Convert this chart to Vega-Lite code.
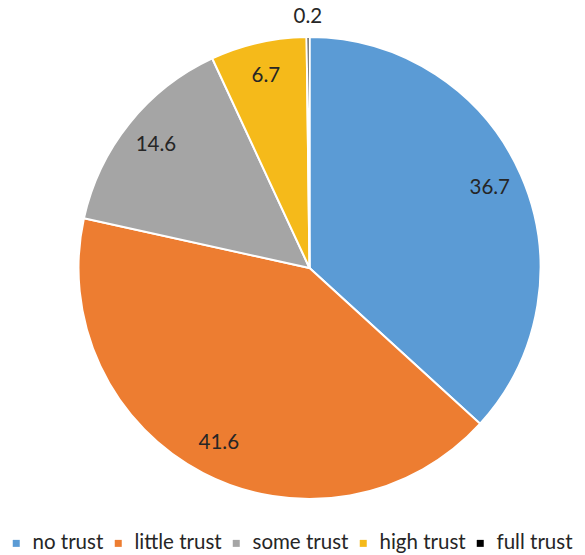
{
  "$schema": "https://vega.github.io/schema/vega-lite/v6.json",
  "width": 551,
  "height": 464,
  "autosize": {"type": "none"},
  "padding": {"left": 34, "top": 36, "right": 0, "bottom": 55},
  "background": "white",
  "data": {"values": [
    {"category": "no trust", "value": 36.7, "order": 1},
    {"category": "little trust", "value": 41.6, "order": 2},
    {"category": "some trust", "value": 14.6, "order": 3},
    {"category": "high trust", "value": 6.7, "order": 4},
    {"category": "full trust", "value": 0.2, "order": 5}
  ]},
  "encoding": {
    "theta": {"field": "value", "type": "quantitative", "stack": true},
    "order": {"field": "order", "type": "ordinal"}
  },
  "layer": [
    {
      "mark": {"type": "arc", "outerRadius": 231, "stroke": "white", "strokeWidth": 2},
      "encoding": {
        "color": {
          "field": "category", "type": "nominal",
          "scale": {
            "domain": ["no trust", "little trust", "some trust", "high trust", "full trust"],
            "range": ["#5B9BD5", "#ED7D31", "#A5A5A5", "#F5BA1A", "#000000"]
          },
          "legend": {
            "orient": "none", "direction": "horizontal", "title": null,
            "legendX": -28, "legendY": 497,
            "symbolType": "square", "symbolSize": 49, "symbolStrokeWidth": 0,
            "labelFont": "Lato", "labelFontSize": 20.5, "labelColor": "#262626",
            "labelOffset": 6, "columnPadding": 4, "symbolOffset": 0
          }
        }
      }
    },
    {
      "mark": {"type": "text", "radius": 197, "font": "Lato", "fontSize": 20.5, "color": "#262626"},
      "encoding": {
        "text": {"condition": {"test": "datum.value < 1", "value": ""}, "field": "value", "type": "quantitative", "format": ".1f"}
      }
    },
    {
      "mark": {"type": "text", "radius": 251, "font": "Lato", "fontSize": 20.5, "color": "#262626"},
      "encoding": {
        "text": {"condition": {"test": "datum.value >= 1", "value": ""}, "field": "value", "type": "quantitative", "format": ".1f"}
      }
    }
  ],
  "config": {"view": {"stroke": null}}
}
